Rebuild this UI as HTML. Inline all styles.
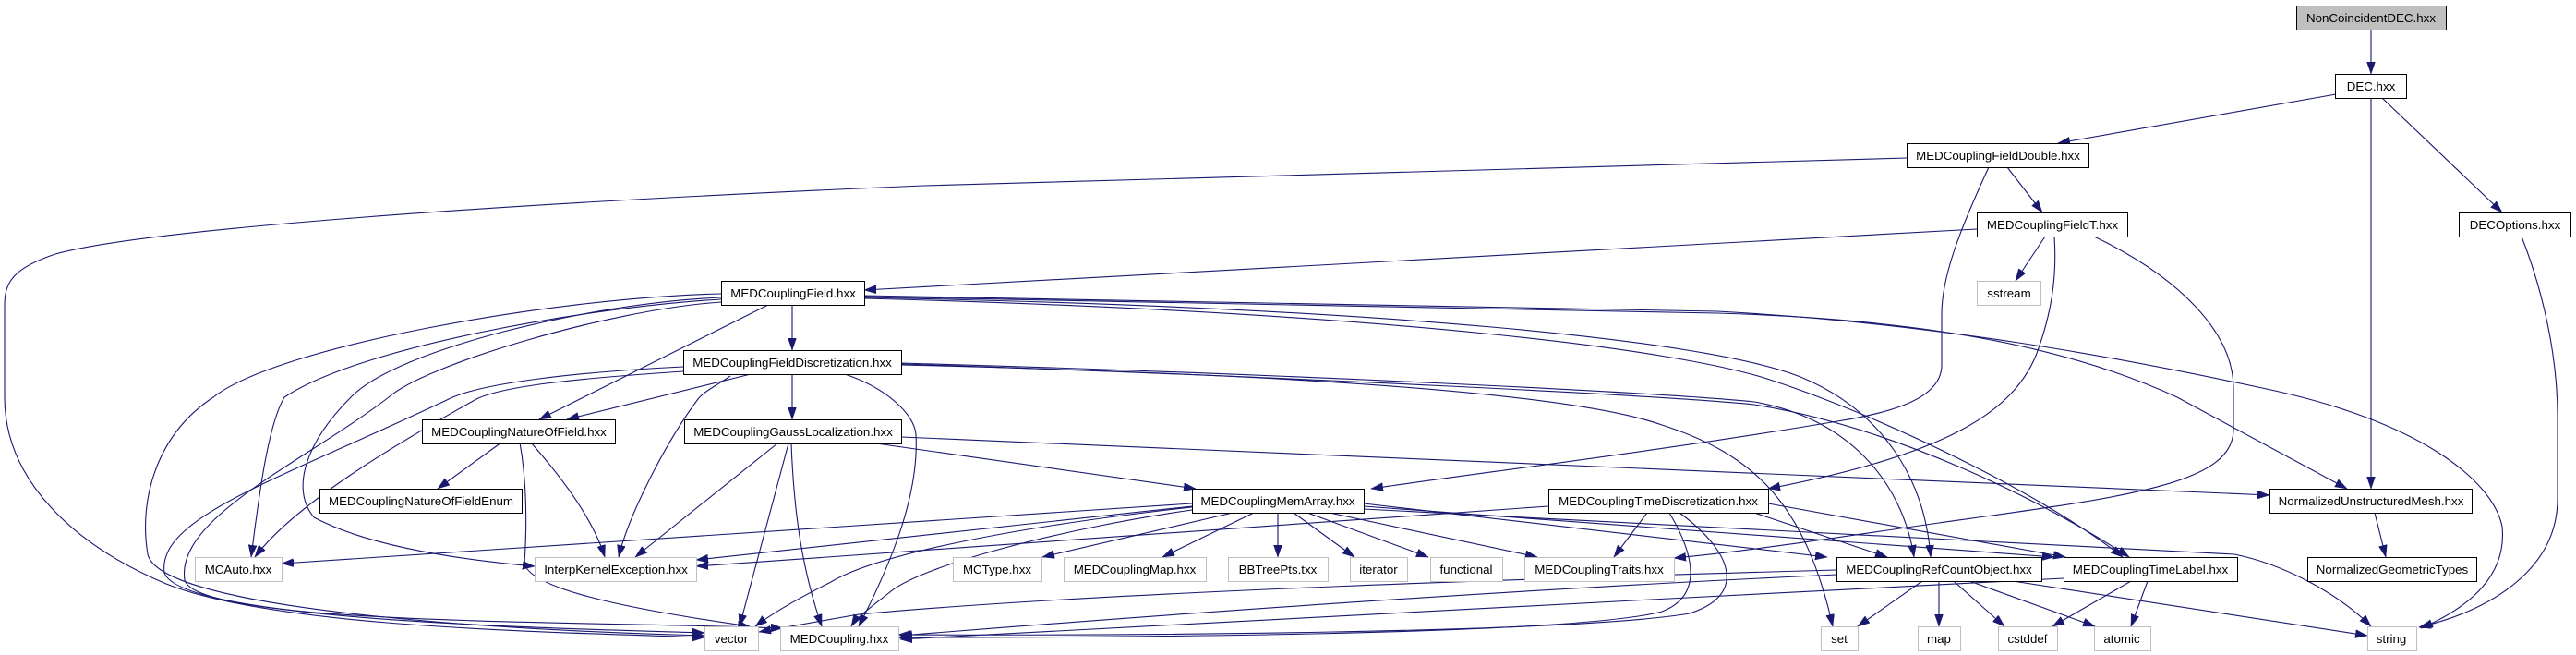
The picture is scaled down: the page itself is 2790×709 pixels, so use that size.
<!DOCTYPE html>
<html><head><meta charset="utf-8"><style>
html,body{margin:0;padding:0;background:#fff;}
svg{display:block;}
text{font-family:"Liberation Sans",Arial,sans-serif;font-size:13.33px;fill:#000;text-anchor:middle;}
.e{fill:none;stroke:#191970;stroke-width:1.1;marker-end:url(#a);}
.b{fill:#fff;stroke:#000;stroke-width:1;}
.g{fill:#fff;stroke:#bfbfbf;stroke-width:1;}
</style></head><body>
<svg width="2790" height="709" viewBox="0 0 2790 709" xmlns="http://www.w3.org/2000/svg">
<defs>
<marker id="a" markerUnits="userSpaceOnUse" markerWidth="14" markerHeight="10" refX="13" refY="4.5" orient="auto">
<path d="M0,0 L13,4.5 L0,9 z" fill="#191970" stroke="#191970" stroke-width="0.5"/>
</marker>
</defs>
<rect width="2790" height="709" fill="#fff"/>
<g>
<path class="e" d="M2568,32 L2568,80"/>
<path class="e" d="M2530,102 L2229,155"/>
<path class="e" d="M2568,106 L2568,529"/>
<path class="e" d="M2580,106 L2710,230"/>
<path class="e" d="M2174,181 L2212,230"/>
<path class="e" d="M2154,181 C2122,250 2103,300 2103,340 L2103,395 C2103,428 2060,445 1990,456 C1800,488 1600,512 1485,529"/>
<path class="e" d="M2065,171 L1000,201 C500,222 150,250 60,275 C15,290 5,305 5,330 L5,430 C5,520 80,590 180,632 C300,680 600,684 763,690"/>
<path class="e" d="M2141,248 L936,314"/>
<path class="e" d="M2215,256 L2183,304"/>
<path class="e" d="M2225,256 C2228,300 2222,340 2205,385 C2180,445 2110,492 1915,529"/>
<path class="e" d="M2268,256 C2360,300 2419,360 2419,420 L2419,465 C2419,525 2300,538 2100,566 C2000,580 1900,596 1813,604"/>
<path class="e" d="M2731,256 C2760,330 2770,400 2770,450 L2770,540 C2770,615 2700,660 2620,679"/>
<path class="e" d="M858,330 L858,379"/>
<path class="e" d="M832,330 L584,454"/>
<path class="e" d="M936,321 L1860,339 C2100,346 2250,380 2358,430 L2542,529"/>
<path class="e" d="M936,320 L1860,337 C2100,350 2300,388 2450,420 C2620,455 2700,520 2710,570 C2715,620 2680,655 2622,680"/>
<path class="e" d="M936,322 C1500,333 1850,368 1950,408 C2040,445 2085,520 2091,603"/>
<path class="e" d="M936,323 C1500,338 1820,378 1920,412 C2050,455 2220,540 2299,603"/>
<path class="e" d="M781,324 C640,332 390,375 308,430 C290,460 280,540 272,603"/>
<path class="e" d="M781,322 C640,328 430,378 380,430 C330,480 315,530 340,560 C400,592 500,606 579,613"/>
<path class="e" d="M781,318 C600,322 300,375 231,430 C170,470 150,540 160,600 C175,665 600,684 763,688"/>
<path class="e" d="M781,327 C660,335 460,395 421,430 C330,500 190,560 200,628 C215,678 650,672 848,680"/>
<path class="e" d="M858,405 L858,454"/>
<path class="e" d="M813,405 L614,454"/>
<path class="e" d="M740,402 C620,410 545,418 516,432 C430,480 320,545 276,603"/>
<path class="e" d="M740,397 C620,403 520,415 486,432 C300,520 170,560 178,620 C195,672 600,680 763,685"/>
<path class="e" d="M791,407 C775,418 762,424 756,432 C720,480 680,560 670,603"/>
<path class="e" d="M915,405 C960,420 990,448 992,470 C996,540 960,620 930,678"/>
<path class="e" d="M976,393 C1400,405 1800,425 1900,435 C2000,452 2060,520 2073,603"/>
<path class="e" d="M976,394 C1400,408 1800,428 1900,438 C2050,462 2210,540 2306,603"/>
<path class="e" d="M976,395 C1400,405 1700,425 1800,460 C1900,492 1955,545 1985,678"/>
<path class="e" d="M942,479 L1295,529"/>
<path class="e" d="M976,473 L2458,536"/>
<path class="e" d="M842,480 L688,603"/>
<path class="e" d="M854,480 L801,678"/>
<path class="e" d="M857,480 C860,560 870,620 890,678"/>
<path class="e" d="M543,479 L474,529"/>
<path class="e" d="M575,479 C620,530 645,570 655,603"/>
<path class="e" d="M563,479 C572,530 570,580 568,610 C575,640 700,662 812,678"/>
<path class="e" d="M1335,555 L1129,603"/>
<path class="e" d="M1358,555 L1259,603"/>
<path class="e" d="M1384,555 L1384,603"/>
<path class="e" d="M1401,555 L1467,603"/>
<path class="e" d="M1416,555 L1547,603"/>
<path class="e" d="M1440,555 L1665,603"/>
<path class="e" d="M1291,545 L305,610"/>
<path class="e" d="M1291,548 L754,606"/>
<path class="e" d="M1677,548 L754,613"/>
<path class="e" d="M1291,549 C1100,570 950,600 900,630 C860,650 835,665 818,678"/>
<path class="e" d="M1291,552 C1150,572 1000,612 965,640 C945,656 928,668 922,678"/>
<path class="e" d="M1477,545 L1979,603"/>
<path class="e" d="M1477,548 L2225,603"/>
<path class="e" d="M1477,551 L2420,600 C2470,610 2530,640 2568,678"/>
<path class="e" d="M1784,555 L1748,603"/>
<path class="e" d="M1808,555 C1835,600 1845,645 1800,662 C1700,688 1200,690 973,690"/>
<path class="e" d="M1819,555 C1880,600 1890,645 1830,664 C1700,686 1200,688 973,687"/>
<path class="e" d="M1900,555 L2044,603"/>
<path class="e" d="M1915,545 L2237,603"/>
<path class="e" d="M2082,629 L2012,678"/>
<path class="e" d="M2100,629 L2100,678"/>
<path class="e" d="M2116,629 L2171,678"/>
<path class="e" d="M2133,629 L2269,678"/>
<path class="e" d="M2180,629 L2564,688"/>
<path class="e" d="M1989,617 C1700,625 1200,640 930,665 L822,684"/>
<path class="e" d="M1989,622 C1600,640 1200,670 975,688"/>
<path class="e" d="M2308,629 L2223,678"/>
<path class="e" d="M2326,629 L2308,678"/>
<path class="e" d="M2235,626 C1800,648 1200,680 975,692"/>
<path class="e" d="M2572,555 L2584,603"/>
</g>
<g>
<rect x="2487.5" y="6.5" width="162" height="26" fill="#bfbfbf" stroke="#000"/><text x="2568" y="24">NonCoincidentDEC.hxx</text>
<rect class="b" x="2529.5" y="80.5" width="77" height="26"/><text x="2568" y="98">DEC.hxx</text>
<rect class="b" x="2065.5" y="155.5" width="197" height="26"/><text x="2164" y="173">MEDCouplingFieldDouble.hxx</text>
<rect class="b" x="2141.5" y="230.5" width="163" height="26"/><text x="2223" y="248">MEDCouplingFieldT.hxx</text>
<rect class="b" x="2663.5" y="230.5" width="121" height="26"/><text x="2724" y="248">DECOptions.hxx</text>
<rect class="b" x="781.5" y="304.5" width="155" height="26"/><text x="859" y="322">MEDCouplingField.hxx</text>
<rect class="g" x="2141.5" y="304.5" width="69" height="26"/><text x="2176" y="322">sstream</text>
<rect class="b" x="740.5" y="379.5" width="236" height="26"/><text x="858" y="397">MEDCouplingFieldDiscretization.hxx</text>
<rect class="b" x="457.5" y="454.5" width="209" height="26"/><text x="562" y="472">MEDCouplingNatureOfField.hxx</text>
<rect class="b" x="741.5" y="454.5" width="235" height="26"/><text x="859" y="472">MEDCouplingGaussLocalization.hxx</text>
<rect class="b" x="346.5" y="529.5" width="219" height="26"/><text x="456" y="547">MEDCouplingNatureOfFieldEnum</text>
<rect class="b" x="1291.5" y="529.5" width="186" height="26"/><text x="1384" y="547">MEDCouplingMemArray.hxx</text>
<rect class="b" x="1677.5" y="529.5" width="238" height="26"/><text x="1796" y="547">MEDCouplingTimeDiscretization.hxx</text>
<rect class="b" x="2458.5" y="529.5" width="219" height="26"/><text x="2568" y="547">NormalizedUnstructuredMesh.hxx</text>
<rect class="g" x="211.5" y="603.5" width="94" height="26"/><text x="258" y="621">MCAuto.hxx</text>
<rect class="g" x="579.5" y="603.5" width="175" height="26"/><text x="667" y="621">InterpKernelException.hxx</text>
<rect class="g" x="1032.5" y="603.5" width="96" height="26"/><text x="1080" y="621">MCType.hxx</text>
<rect class="g" x="1152.5" y="603.5" width="154" height="26"/><text x="1229" y="621">MEDCouplingMap.hxx</text>
<rect class="g" x="1330.5" y="603.5" width="108" height="26"/><text x="1384" y="621">BBTreePts.txx</text>
<rect class="g" x="1462.5" y="603.5" width="62" height="26"/><text x="1493" y="621">iterator</text>
<rect class="g" x="1549.5" y="603.5" width="78" height="26"/><text x="1588" y="621">functional</text>
<rect class="g" x="1651.5" y="603.5" width="162" height="26"/><text x="1732" y="621">MEDCouplingTraits.hxx</text>
<rect class="b" x="1989.5" y="603.5" width="222" height="26"/><text x="2100" y="621">MEDCouplingRefCountObject.hxx</text>
<rect class="b" x="2235.5" y="603.5" width="188" height="26"/><text x="2329" y="621">MEDCouplingTimeLabel.hxx</text>
<rect class="b" x="2499.5" y="603.5" width="183" height="26"/><text x="2591" y="621">NormalizedGeometricTypes</text>
<rect class="g" x="763.5" y="678.5" width="58" height="26"/><text x="792" y="696">vector</text>
<rect class="g" x="845.5" y="678.5" width="128" height="26"/><text x="909" y="696">MEDCoupling.hxx</text>
<rect class="g" x="1972.5" y="678.5" width="40" height="26"/><text x="1992" y="696">set</text>
<rect class="g" x="2077.5" y="678.5" width="46" height="26"/><text x="2100" y="696">map</text>
<rect class="g" x="2164.5" y="678.5" width="64" height="26"/><text x="2196" y="696">cstddef</text>
<rect class="g" x="2268.5" y="678.5" width="61" height="26"/><text x="2298" y="696">atomic</text>
<rect class="g" x="2564.5" y="678.5" width="53" height="26"/><text x="2590" y="696">string</text>
</g>
</svg>
</body></html>
